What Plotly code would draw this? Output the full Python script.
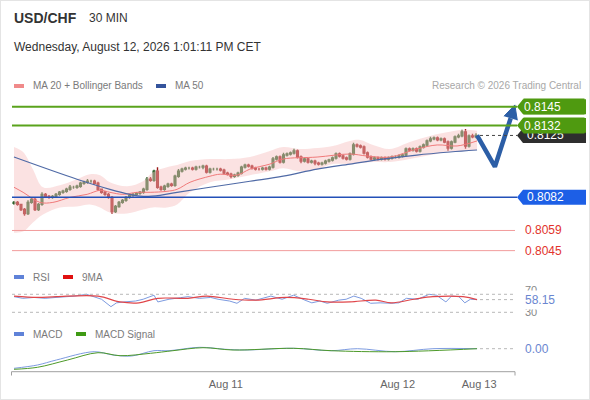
import plotly.graph_objects as go

W, H = 590, 400

# 30 min candles, index 0 = first visible bar (Aug 10 evening)
closes = [
    0.80785, 0.80771, 0.80736, 0.80708, 0.80785, 0.80806, 0.80736, 0.80771, 0.80841, 0.80827,
    0.80820, 0.80827, 0.80841, 0.80855, 0.80862, 0.80876, 0.80890, 0.80890, 0.80897, 0.80918,
    0.80925, 0.80932, 0.80932, 0.80918, 0.80876, 0.80855, 0.80841, 0.80820, 0.80722, 0.80757,
    0.80785, 0.80799, 0.80820, 0.80834, 0.80841, 0.80848, 0.80855, 0.80876, 0.80946, 0.80939,
    0.81002, 0.80890, 0.80876, 0.80897, 0.80911, 0.80904, 0.80967, 0.81002, 0.81016, 0.81023,
    0.81023, 0.81016, 0.81030, 0.81030, 0.81037, 0.80995, 0.81016, 0.81016, 0.81016, 0.81009,
    0.80988, 0.80981, 0.80967, 0.80974, 0.80988, 0.81030, 0.81044, 0.81037, 0.81023, 0.81016,
    0.81016, 0.81023, 0.81016, 0.81030, 0.81086, 0.81100, 0.81065, 0.81114, 0.81121, 0.81128,
    0.81142, 0.81100, 0.81072, 0.81086, 0.81065, 0.81072, 0.81058, 0.81051, 0.81058, 0.81072,
    0.81079, 0.81093, 0.81121, 0.81107, 0.81093, 0.81086, 0.81121, 0.81184, 0.81177, 0.81170,
    0.81128, 0.81100, 0.81086, 0.81093, 0.81086, 0.81093, 0.81086, 0.81093, 0.81100, 0.81100,
    0.81107, 0.81114, 0.81156, 0.81149, 0.81156, 0.81142, 0.81170, 0.81184, 0.81212, 0.81226,
    0.81233, 0.81219, 0.81226, 0.81205, 0.81163, 0.81205, 0.81240, 0.81247, 0.81275, 0.81177,
    0.81247, 0.81240, 0.81250,
]
first_open = 0.80778
# wick lengths in pips
upper_wick = [
    1, 1, .5, 1, 1.5, 1, 1, 1, 1.5, 1,
    1, 1, 1, 1, 1, 1, 1.5, 1, 1, 1,
    1, 1.5, 1, 1, 1, .5, 1, 1, 1, 1,
    1, 1, 1, 1, 1, 1, 1, 1, 1.5, 1.5,
    1, 2.8, 1, 1, 1, 1, 1, 1.5, 1, 1,
    1, 1, 1, 1, 1, 1, 1, 1, 1, 1,
    1, 1, 1, 1, 1, 1, 1, 1, 1, 1,
    1, 1, 1, 1, 1.5, 1, 1, 1.5, 1, 1,
    1.5, 1, 1, 1, 1, 1, 1, 1, 1, 1,
    1, 1, 1, 1, 1, 1, 1, 1.5, 1, 1,
    1, 1, 1, 1, 1, 1, 1, 1, 1, 1,
    1, 1, 1, 1, 1, 1, 1, 1, 1, 1.5,
    1, 1, 1, 1, 1, 1, 1, 1.5, 1.5, 2,
    1, 1.5, 1.5,
]
lower_wick = [
    1, 1, 1, 1.5, 1, 1, 1, 1, 1, 1,
    1, 1, 1, 1, 1, 1, 1, 1, 1, 1,
    1, 1, 1, 1, 1, 1, 1, 1, 1.5, 1,
    1, 1, 1, 1, 1, 1, 1, 1, 1, 1,
    1, 1, 1, 1, 1, 1, 1, 1, 1, 1,
    1, 1, 1, 1, 1.5, 1, 1, 1, 1, 1,
    1, 1, 1.5, 1, 1, 1, 1, 1, 1, 1,
    1, 1, 1, 1, 1, 1, 1, 1, 1, 1,
    1, 1, 1.5, 1, 1, 1, 1.5, 1, 1, 1,
    1, 1, 1, 1, 1, 1, 1, 1, 1, 1,
    1, 1, 1, 1, 1, 1, 1, 1, 1, 1,
    1, 1, 1, 1, 1, 1, 1, 1, 1, 1,
    1, 1, 1, 1, 2, 1, 1, 1, 1, 2,
    1, 1, 1,
]

# MA 20 + Bollinger bands, MA 50 (read at bar positions)
bb_x = [0, 2.6, 5.4, 8.3, 13.1, 18, 21.7, 24.6, 27.4, 32.3, 36.9, 39.7, 43.7, 46.6, 50.3, 56,
        61.7, 67.4, 73.1, 76.9, 81.7, 86.6, 91.1, 96, 98.9, 102.6, 107.4, 113.1, 118.9, 124.6, 128.3, 132.3]
bb_upper = [0.81170, 0.81135, 0.81016, 0.80890, 0.80904, 0.80946, 0.80981, 0.80974, 0.80925, 0.80897,
            0.80932, 0.80995, 0.81030, 0.81044, 0.81072, 0.81086, 0.81086, 0.81100, 0.81142, 0.81170,
            0.81156, 0.81163, 0.81177, 0.81212, 0.81219, 0.81184, 0.81156, 0.81205, 0.81247, 0.81275,
            0.81289, 0.81282]
bb_lower = [0.80575, 0.80582, 0.80645, 0.80701, 0.80750, 0.80757, 0.80771, 0.80750, 0.80715, 0.80708,
            0.80736, 0.80750, 0.80750, 0.80771, 0.80855, 0.80925, 0.80946, 0.80974, 0.81002, 0.81023,
            0.81002, 0.81016, 0.81051, 0.81051, 0.81058, 0.81065, 0.81065, 0.81086, 0.81114, 0.81135,
            0.81142, 0.81149]
ma20_x = [0, 2.6, 7.4, 11.1, 16, 20.9, 24.6, 27.4, 31.1, 35.1, 38.9, 43.7, 46.6, 50.3, 56, 58.9,
          63.7, 67.4, 73.1, 76.9, 86.6, 96, 100.9, 107.4, 115.1, 120.9, 126.6, 132.3]
ma20 = [0.80890, 0.80855, 0.80785, 0.80785, 0.80820, 0.80841, 0.80869, 0.80855, 0.80841, 0.80855,
        0.80855, 0.80862, 0.80876, 0.80925, 0.80967, 0.80981, 0.80974, 0.81016, 0.81051, 0.81086,
        0.81100, 0.81121, 0.81107, 0.81100, 0.81156, 0.81184, 0.81177, 0.81212]
ma50_x = [0, 18, 27.4, 33.1, 36.9, 41.7, 46.6, 56, 67.4, 76.9, 86.6, 96, 105.4, 115.1, 124.6, 132.3]
ma50 = [0.81100, 0.80946, 0.80876, 0.80841, 0.80827, 0.80834, 0.80855, 0.80890, 0.80932, 0.80967,
        0.81016, 0.81051, 0.81086, 0.81114, 0.81135, 0.81149]

# RSI and its 9MA
rsi_x = [0, 2.5, 5.7, 8.9, 12, 17.4, 20.7, 22.9, 25, 27.7, 29.3, 31.4, 34.7, 36.9, 39, 40, 41.1,
         44.3, 47.6, 49.7, 53, 56.2, 58.3, 61.6, 63.7, 65.9, 69.1, 73.4, 76.6, 79.9, 83.1, 85.1,
         87.4, 89.5, 92.8, 94.9, 97.1, 99.2, 101.9, 104.6, 107.8, 110, 112.1, 115.4, 118.6, 120.7,
         123.4, 125, 127.1, 128.8, 130.4, 132.3]
rsi = [64.7, 61, 63, 61, 63, 66, 70, 64.7, 59, 42.5, 51, 53, 55, 59, 66, 68, 53,
       59, 62.5, 64.7, 61, 63, 59, 55, 50, 61, 57, 66, 59, 68, 57, 51,
       55, 50, 57, 59, 66, 61, 50, 51, 50, 51, 61, 59, 70, 68,
       53, 66, 64.7, 51, 59, 58.15]
rsi_ma_x = [0, 6.7, 12.1, 24, 30.3, 35.7, 41.1, 49.7, 55.1, 62.6, 69.1, 77.7, 84.2, 89.5, 96,
            103.4, 107.8, 114.3, 119.7, 128.3, 132.3]
rsi_ma = [66, 63, 64.7, 66, 53, 51, 61, 61, 66, 59, 57, 63, 59, 53, 53, 57, 51, 59, 64.7, 64.7, 58]

# MACD
macd_x = [0, 6.7, 12.1, 22.9, 28.3, 33.6, 40, 44.3, 53, 60.5, 65.9, 79.9, 90.6, 98.1, 108.9, 119.7, 132.3]
macd = [-0.000196, -0.000163, -0.000113, -0.00003, -0.000063, -0.000073, -0.00002, -0.00002, 0.000014,
        -0.000006, -0.000013, 0.000004, -0.00002, 0.0, -0.00003, 0.0, 0.0]
signal_x = [0, 6.7, 15.3, 24, 30.3, 39, 45.4, 54, 62.6, 79.9, 90.6, 108.9, 132.3]
signal = [-0.000206, -0.000186, -0.000113, -0.00004, -0.00007, -0.000046, -0.00002, 0.00001,
          -0.000013, 0.000004, -0.00002, -0.00003, 0.0]

# key levels
resist = [0.8145, 0.8132]
last_price = 0.8125
pivot = 0.8082
supports = [0.8059, 0.8045]
rsi_last = 58.15

# forecast arrow (bar index, price)
arrow_x = [132.3, 137.4, 141.9]
arrow_y = [0.81250, 0.81033, 0.81369]
head_x = [140.0, 143.1, 143.8]
head_y = [0.81384, 0.81462, 0.81355]

tick_pos = [60.5, 109.6, 132.9]
tick_text = ["Aug 11", "Aug 12", "Aug 13"]

FONT = "Liberation Sans, Arial, sans-serif"


def px(x):
    return x / W


def py(y):
    return 1 - y / H


idx = list(range(len(closes)))
opens = [first_open] + closes[:-1]
highs = [max(o, c) + w * 0.0001 for o, c, w in zip(opens, closes, upper_wick)]
lows = [min(o, c) - w * 0.0001 for o, c, w in zip(opens, closes, lower_wick)]

fig = go.Figure()

fig.add_trace(go.Scatter(x=bb_x, y=bb_upper, mode="lines", line=dict(width=0, shape="spline"),
                         hoverinfo="skip"))
fig.add_trace(go.Scatter(x=bb_x, y=bb_lower, mode="lines", line=dict(width=0, shape="spline"),
                         fill="tonexty", fillcolor="rgba(246,190,190,0.45)", hoverinfo="skip"))
fig.add_trace(go.Scatter(x=ma20_x, y=ma20, mode="lines",
                         line=dict(color="#f07a7a", width=1, shape="spline"), hoverinfo="skip"))
fig.add_trace(go.Scatter(x=ma50_x, y=ma50, mode="lines",
                         line=dict(color="#4f6aa6", width=1.2, shape="spline"), hoverinfo="skip"))

fig.add_trace(go.Candlestick(
    x=idx, open=opens, high=highs, low=lows, close=closes,
    increasing=dict(line=dict(color="#2a622a", width=1.4), fillcolor="#3a8036"),
    decreasing=dict(line=dict(color="#9c1818", width=1.4), fillcolor="#c02626"),
    whiskerwidth=0, hoverinfo="skip"))

fig.add_trace(go.Scatter(x=arrow_x, y=arrow_y, mode="lines",
                         line=dict(color="#2c5ea6", width=4.5), hoverinfo="skip"))
fig.add_trace(go.Scatter(x=head_x, y=head_y, mode="lines", fill="toself", fillcolor="#2c5ea6",
                         line=dict(color="#2c5ea6", width=1), hoverinfo="skip"))

fig.add_trace(go.Scatter(x=rsi_x, y=rsi, mode="lines", yaxis="y2",
                         line=dict(color="#7d9be0", width=1), hoverinfo="skip"))
fig.add_trace(go.Scatter(x=rsi_ma_x, y=rsi_ma, mode="lines", yaxis="y2",
                         line=dict(color="#e0464a", width=1.2, shape="spline"), hoverinfo="skip"))

fig.add_trace(go.Scatter(x=macd_x, y=macd, mode="lines", yaxis="y3",
                         line=dict(color="#7d9be0", width=1, shape="spline"), hoverinfo="skip"))
fig.add_trace(go.Scatter(x=signal_x, y=signal, mode="lines", yaxis="y3",
                         line=dict(color="#4e9a2a", width=1, shape="spline"), hoverinfo="skip"))

shapes = []
annotations = []


def note(x, y, text, xref="paper", yref="paper", **kw):
    d = dict(xref=xref, yref=yref, x=x, y=y, text=text, showarrow=False,
             xanchor="left", yanchor="middle")
    d.update(kw)
    annotations.append(d)


# frame
shapes.append(dict(type="rect", xref="paper", yref="paper", x0=0, x1=1, y0=0, y1=1,
                   line=dict(color="#e4e4e4", width=2)))

# level lines
for lv in resist:
    shapes.append(dict(type="line", xref="paper", yref="y", x0=px(12), x1=px(517), y0=lv, y1=lv,
                       line=dict(color="#5aa31c", width=2)))
shapes.append(dict(type="line", xref="paper", yref="y", x0=px(12), x1=px(517), y0=pivot, y1=pivot,
                   line=dict(color="#2350b8", width=1.5)))
for lv in supports:
    shapes.append(dict(type="line", xref="paper", yref="y", x0=px(12), x1=px(515), y0=lv, y1=lv,
                       line=dict(color="#f29c9c", width=1)))
shapes.append(dict(type="line", xref="paper", yref="y", x0=px(480), x1=px(517), y0=last_price,
                   y1=last_price, line=dict(color="#444444", width=1, dash="dot")))

# price tags (arrow-left boxes)
hh = 7.5 / 14400


def tag(level, color):
    x0, x1, x2 = px(517), px(523), px(586)
    return dict(type="path", xref="paper", yref="y", fillcolor=color, line=dict(width=0),
                path=f"M {x0},{level} L {x1},{level + hh} L {x2},{level + hh} "
                     f"L {x2},{level - hh} L {x1},{level - hh} Z")


shapes.append(tag(last_price, "#2e2e2e"))
shapes.append(tag(resist[1], "#4f9a10"))
shapes.append(tag(resist[0], "#4f9a10"))
shapes.append(tag(pivot, "#1d5fe6"))

note(px(525), last_price, f"{last_price:.4f}", yref="y", font=dict(color="white", size=12))
for lv in resist:
    note(px(523), lv, f"{lv:.4f}", yref="y", align="left", bgcolor="#4f9a10", width=60, height=15,
         borderpad=0, font=dict(color="white", size=12))
note(px(525), pivot, f"{pivot:.4f}", yref="y", font=dict(color="white", size=12))
for lv in supports:
    note(px(523), lv, f"{lv:.4f}", yref="y", font=dict(color="#e2332c", size=12))

# RSI guides
for lv in [70, 30]:
    shapes.append(dict(type="line", xref="paper", yref="y2", x0=px(12), x1=px(515), y0=lv, y1=lv,
                       line=dict(color="#b8b8b8", width=1, dash="dot")))
shapes.append(dict(type="line", xref="paper", yref="y2", x0=px(480), x1=px(515), y0=rsi_last,
                   y1=rsi_last, line=dict(color="#b8b8b8", width=1, dash="dot")))
shapes.append(dict(type="line", xref="paper", yref="y3", x0=px(480), x1=px(515), y0=0, y1=0,
                   line=dict(color="#b8b8b8", width=1, dash="dot")))
note(px(523), py(290), "70", yref="paper", font=dict(color="#888888", size=11))
note(px(523), py(311.5), "30", yref="paper", font=dict(color="#888888", size=11))
note(px(522), rsi_last, f"{rsi_last:.2f}", yref="y2", bgcolor="white", borderpad=2,
     font=dict(color="#6a86d0", size=12))
note(px(523), 0, "0.00", yref="y3", font=dict(color="#6a86d0", size=12))

# bottom axis line with end ticks
shapes.append(dict(type="line", xref="paper", yref="paper", x0=px(11.5), x1=px(515), y0=py(371.7),
                   y1=py(371.7), line=dict(color="#a0a0a0", width=1)))
for xe in [11.5, 515]:
    shapes.append(dict(type="line", xref="paper", yref="paper", x0=px(xe), x1=px(xe), y0=py(371.7),
                       y1=py(375.5), line=dict(color="#a0a0a0", width=1)))

# header
note(px(12), py(18), "<b>USD/CHF</b>", font=dict(color="#333333", size=14))
note(px(87), py(18), "30 MIN", font=dict(color="#333333", size=12))
note(px(12), py(47), "Wednesday, August 12, 2026 1:01:11 PM CET", font=dict(color="#333333", size=12))
note(px(583), py(86), "Research © 2026 Trading Central", xanchor="right",
     font=dict(color="#a8a8a8", size=10))


def legend_item(x, y, color, label, wsw=10):
    shapes.append(dict(type="rect", xref="paper", yref="paper", x0=px(x), x1=px(x + wsw),
                       y0=py(y + 2), y1=py(y - 2), fillcolor=color, line=dict(width=0)))
    note(px(x + wsw + 7), py(y), label, font=dict(color="#7a7a7a", size=10))


legend_item(14, 86, "#f08a8a", "MA 20 + Bollinger Bands")
legend_item(156, 86, "#34549c", "MA 50")
legend_item(14, 277, "#5f82d8", "RSI")
legend_item(63, 277, "#e01010", "9MA")
legend_item(14, 334, "#5f82d8", "MACD")
legend_item(76, 334, "#3f9a14", "MACD Signal")

fig.update_layout(
    width=W, height=H,
    margin=dict(l=0, r=0, t=0, b=0),
    paper_bgcolor="white", plot_bgcolor="white",
    font=dict(family=FONT),
    showlegend=False,
    hovermode=False,
    shapes=shapes,
    annotations=annotations,
    xaxis=dict(domain=[px(12), px(520)], range=[-0.57, (520 - 14) / 3.5], anchor="y3",
               showgrid=False, zeroline=False, showline=False, ticks="",
               tickvals=tick_pos, ticktext=tick_text, tickfont=dict(color="#666666", size=11),
               ticklabelstandoff=4, rangeslider=dict(visible=False), fixedrange=True),
    yaxis=dict(domain=[py(262), py(95)], range=[0.80371, 0.81531], visible=False),
    yaxis2=dict(domain=[py(320), py(286)], range=[12.9, 88.4], visible=False),
    yaxis3=dict(domain=[py(371.7), py(340)], range=[-0.00023, 0.000087], visible=False),
)

fig.write_html("out.html", config={"displayModeBar": False},
               post_script="document.body.style.margin='0';")
